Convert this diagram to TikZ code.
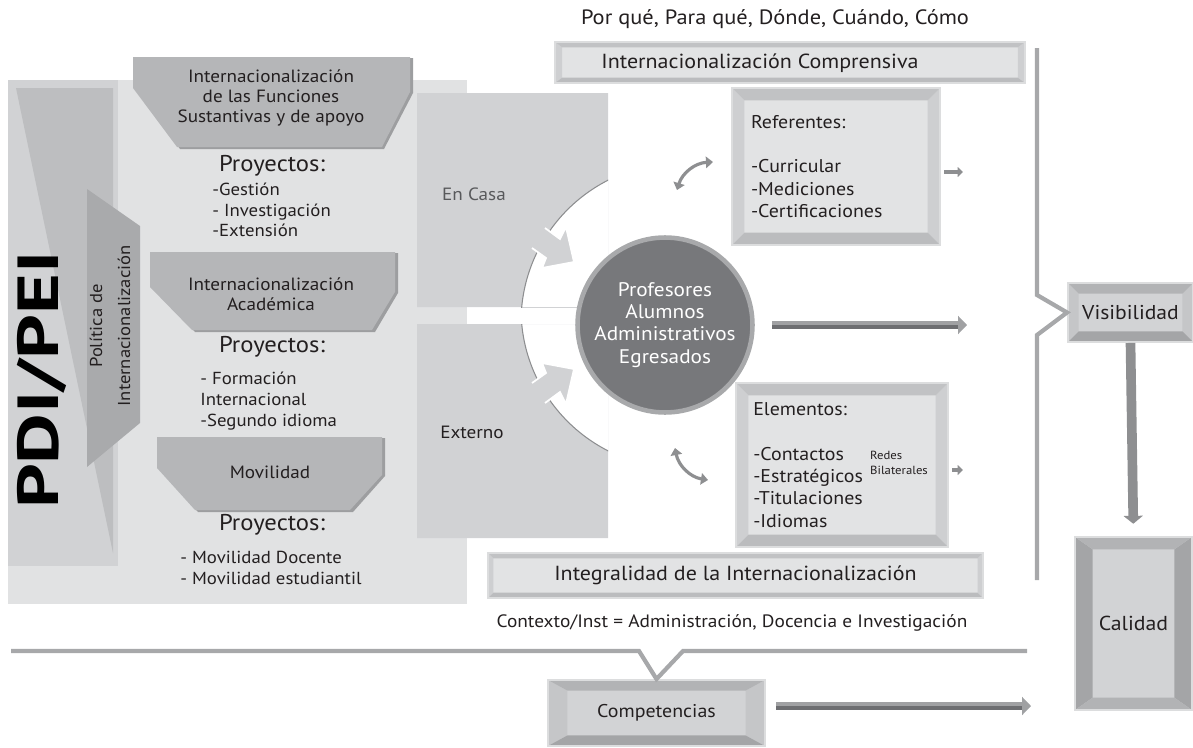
\documentclass[tikz,border=0pt]{standalone}
\usepackage{fontspec}
\setmainfont[FakeStretch=1.08]{PT Sans}
\newfontfamily\titlefont[FakeStretch=1.35]{PT Sans}
\usepackage{tikz}
\usetikzlibrary{calc, positioning, arrows.meta}

\definecolor{panelLight}{HTML}{E1E2E3}
\definecolor{panelMid}{HTML}{D1D2D4}
\definecolor{wedgeGray}{HTML}{BDBEC0}
\definecolor{shapeGray}{HTML}{B5B6B8}
\definecolor{shadeGray}{HTML}{9D9EA0}
\definecolor{policyGray}{HTML}{A9AAAC}
\definecolor{hubFill}{HTML}{77787B}
\definecolor{hubRing}{HTML}{A8A9AB}
\definecolor{lineGray}{HTML}{A7A8AA}
\definecolor{arrowLight}{HTML}{A0A1A3}
\definecolor{arrowMid}{HTML}{8E8F91}
\definecolor{arrowDark}{HTML}{6D6E71}
\definecolor{arcGray}{HTML}{8D8E90}
\definecolor{textDark}{HTML}{231F20}
\definecolor{textGray}{HTML}{58595B}
\definecolor{rimGray}{HTML}{DCDDDE}
\definecolor{faceL}{HTML}{E2E3E4}
\definecolor{topL}{HTML}{C1C2C4}
\definecolor{sideL}{HTML}{CECFD1}
\definecolor{botL}{HTML}{BBBCBE}
\definecolor{faceD}{HTML}{D2D3D5}
\definecolor{topD}{HTML}{B2B3B5}
\definecolor{sideD}{HTML}{C5C6C8}
\definecolor{botD}{HTML}{A4A5A7}

\tikzset{
    bevel/.style n args={6}{rectangle, draw=rimGray, line width=1.1pt, fill=#6, text=textDark, align=center, inner sep=0pt,
        path picture={
            \fill[#4] (path picture bounding box.north west) -- ([shift={(#1,-#2)}]path picture bounding box.north west)
                -- ([shift={(#1,#2)}]path picture bounding box.south west) -- (path picture bounding box.south west) -- cycle;
            \fill[#4] (path picture bounding box.north east) -- ([shift={(-#1,-#2)}]path picture bounding box.north east)
                -- ([shift={(-#1,#2)}]path picture bounding box.south east) -- (path picture bounding box.south east) -- cycle;
            \fill[#3] (path picture bounding box.north west) -- (path picture bounding box.north east)
                -- ([shift={(-#1,-#2)}]path picture bounding box.north east) -- ([shift={(#1,-#2)}]path picture bounding box.north west) -- cycle;
            \fill[#5] (path picture bounding box.south west) -- (path picture bounding box.south east)
                -- ([shift={(-#1,#2)}]path picture bounding box.south east) -- ([shift={(#1,#2)}]path picture bounding box.south west) -- cycle;
        }},
    lbl/.style={font=\fontsize{10.1}{11.4}\selectfont, text=textDark, align=center, inner sep=0pt},
    proj/.style={font=\fontsize{13}{14}\selectfont, text=textDark, inner sep=0pt},
    items/.style={font=\fontsize{9.9}{11.8}\selectfont, text=textDark, align=left, anchor=west, inner sep=0pt},
    bigtitle/.style={font=\fontsize{33}{36}\selectfont\titlefont\bfseries, text=black, inner sep=0pt},
    boxtxt/.style={font=\fontsize{10.5}{12.7}\selectfont, align=left},
    bartxt/.style={font=\fontsize{11.6}{13}\selectfont},
    hub/.style={circle, fill=hubFill, draw=hubRing, line width=2.6pt, minimum size=3.5cm, inner sep=0pt,
        text=white, align=center, font=\fontsize{11.2}{12.6}\selectfont},
    place/.style={font=\fontsize{10.1}{12}\selectfont, inner sep=0pt},
    ctxline/.style={draw=lineGray, line width=2.4pt},
    arcline/.style={draw=arcGray, line width=0.6pt},
    fatarrow/.style={draw=arrowLight, line width=5pt, -{Triangle[length=5pt, width=10pt]}},
    darkstripe/.style={draw=arrowDark, line width=2.4pt},
    smallarrow/.style={draw=arrowMid, line width=2.3pt, -{Triangle[length=3pt, width=5.5pt]}},
    swaparrow/.style={draw=arrowMid, line width=1.8pt, {Triangle[length=4pt, width=6.5pt]}-{Triangle[length=4pt, width=6.5pt]}}
}

\begin{document}
\begin{tikzpicture}[x=0.02cm, y=-0.02cm]
    \useasboundingbox (0,0) rectangle (1193,747);

    % Left panel
    \fill[panelLight] (8,80) rectangle (467,604);
    \fill[panelMid] (8,80) rectangle (118,566);
    \fill[wedgeGray] (16,88) -- (113,88) -- (113,553) -- cycle;
    \fill[policyGray] (87,189) -- (140,226) -- (140,423) -- (87,467) -- cycle;
    \node[bigtitle, rotate=90] (pdi) at (42,380) {PDI/PEI};
    \node[lbl, rotate=90, font=\fontsize{9.8}{16}\selectfont] (policy) at (110,326) {Política de\\Internacionalización};

    % Funciones sustantivas
    \fill[shadeGray] (136,58) -- (413,58) -- (413,93) -- (384,149) -- (180,149) -- (136,89) -- cycle;
    \fill[shapeGray] (133,57) -- (410,57) -- (410,92) -- (382,147) -- (177,147) -- (133,88) -- cycle;
    \node[lbl] (funcs) at (271,98) {Internacionalización\\de las Funciones\\Sustantivas y de apoyo};
    \node[proj] (projA) at (272,166) {Proyectos:};
    \node[items] (listA) at (212,210) {-Gestión\\- Investigación\\-Extensión};

    % Academica
    \fill[shadeGray] (153,253) -- (398,253) -- (398,293) -- (375,332) -- (195,332) -- (153,288) -- cycle;
    \fill[shapeGray] (150,252) -- (395,252) -- (395,292) -- (372,330) -- (192,330) -- (150,287) -- cycle;
    \node[lbl] (acad) at (271,294) {Internacionalización\\Académica};
    \node[proj] (projB) at (272,347) {Proyectos:};
    \node[items] (listB) at (200,401) {- Formación\\Internacional\\-Segundo idioma};

    % Movilidad
    \fill[shadeGray] (160,438) -- (385,438) -- (385,476) -- (353,512) -- (198,512) -- (160,469) -- cycle;
    \fill[shapeGray] (157,437) -- (382,437) -- (382,475) -- (350,510) -- (195,510) -- (157,468) -- cycle;
    \node[lbl] (movil) at (270,472) {Movilidad};
    \node[proj] (projC) at (272,525) {Proyectos:};
    \node[items] (listC) at (180,568) {- Movilidad Docente\\- Movilidad estudiantil};

    % En Casa / Externo
    \begin{scope}
        \clip (417,93) rectangle (608,307);
        \fill[panelMid, even odd rule] (417,93) rectangle (608,307) (680,322) circle (159);
        \draw[arcline] (680,322) circle (159);
    \end{scope}
    \begin{scope}
        \clip (417,324) rectangle (608,538);
        \fill[panelMid, even odd rule] (417,324) rectangle (608,538) (680,309) circle (159);
        \draw[arcline] (680,309) circle (159);
    \end{scope}
    \fill[panelMid] (545,228) -- (560,239) -- (566,227) -- (574,262) -- (542,268) -- (546,258) -- (532,248) -- cycle;
    \draw[white, line width=1pt] (545,228) -- (560,239) -- (566,227) -- (574,262) -- (542,268) -- (546,258) -- (532,248);
    \fill[panelMid] (545,403) -- (560,392) -- (566,404) -- (574,369) -- (542,363) -- (546,373) -- (532,383) -- cycle;
    \draw[white, line width=1pt] (545,403) -- (560,392) -- (566,404) -- (574,369) -- (542,363) -- (546,373) -- (532,383);
    \node[place, text=textGray] (casa) at (474,194) {En Casa};
    \node[place, text=textDark] (ext) at (472,432) {Externo};

    % Actores
    \node[hub] (hub) at (665,325) {Profesores\\Alumnos\\Administrativos\\Egresados};

    % Cajas
    \node[font=\fontsize{11.8}{13}\selectfont, text=textDark] (why) at (775,19) {Por qué, Para qué, Dónde, Cuándo, Cómo};
    \node[bevel={4pt}{3pt}{topL}{sideL}{botL}{faceL}, minimum width=9.4cm, minimum height=0.82cm] (comp) at (790,62.5) {};
    \node[bartxt, text=textDark] (compTxt) at (760,63) {Internacionalización Comprensiva};
    \node[bevel={7pt}{7pt}{topL}{sideL}{botL}{faceL}, minimum width=4.16cm, minimum height=3.14cm, boxtxt, text width=3.4cm] (ref) at (836,166.5)
        {Referentes:\\[12.7pt]-Curricular\\-Mediciones\\-Certificaciones};
    \node[bevel={7pt}{7pt}{topL}{sideL}{botL}{faceL}, minimum width=4.24cm, minimum height=3.28cm, boxtxt, text width=3.55cm] (elem) at (842,465)
        {Elementos:\\[12.7pt]-Contactos\\-Estratégicos\\-Titulaciones\\-Idiomas};
    \node[font=\fontsize{6.7}{8.3}\selectfont, align=left, text=textDark, inner sep=0pt] (redes) at (899,463) {Redes\\Bilaterales};
    \node[bevel={3pt}{3pt}{topL}{sideL}{botL}{faceL}, minimum width=9.9cm, minimum height=0.9cm, bartxt] (integ) at (735.5,575.5)
        {Integralidad de la Internacionalización};
    \node[font=\fontsize{10.2}{12}\selectfont, text=textDark] (ctx) at (732,623) {Contexto/Inst = Administración, Docencia e Investigación};
    \node[bevel={6pt}{6pt}{topD}{sideD}{botD}{faceD}, minimum width=2.5cm, minimum height=1.18cm, font=\fontsize{11.4}{14}\selectfont] (vis) at (1130.5,312.5) {Visibilidad};
    \node[bevel={10pt}{7pt}{topD}{botD}{topD}{faceD}, minimum width=2.34cm, minimum height=3.46cm, font=\fontsize{11.5}{14}\selectfont] (cal) at (1133.5,623.5) {Calidad};
    \node[bevel={11pt}{6pt}{topD}{sideD}{botD}{faceD}, minimum width=4.34cm, minimum height=1.32cm, font=\fontsize{10.5}{12}\selectfont] (compet) at (656.5,713) {Competencias};

    % Conectores
    \coordinate (visIn) at (967,325);
    \coordinate (calIn) at (1031,706);
    \coordinate (refOut) at (963,172);
    \coordinate (elemOut) at (963,470);
    \coordinate (brTop) at (1037,48);
    \coordinate (brBot) at (1037,580);
    \coordinate (ctxL) at (11,651);
    \coordinate (ctxR) at (1027,651);
    \coordinate (refA) at (677,190);
    \coordinate (refB) at (713,162);
    \coordinate (elemA) at (675,448);
    \coordinate (elemB) at (708,480);

    \draw[fatarrow, shorten <=10pt] (hub.east) -- (visIn);
    \draw[darkstripe, shorten <=10pt, shorten >=5pt] ([yshift=-1.3pt]hub.east) -- ([yshift=-1.3pt]visIn);
    \draw[fatarrow, shorten <=6pt] (compet.east |- calIn) -- (calIn);
    \draw[darkstripe, shorten <=6pt, shorten >=5pt] ([yshift=-1.3pt]compet.east |- calIn) -- ([yshift=-1.3pt]calIn);
    \draw[fatarrow, draw=arrowMid, line width=5.5pt, -{Triangle[length=4.5pt, width=10.8pt]}, shorten >=7pt] (vis.south) -- (cal.north);
    \draw[smallarrow, shorten <=2pt] (ref.east |- refOut) -- (refOut);
    \draw[smallarrow, shorten <=2pt] (elem.east |- elemOut) -- (elemOut);
    \draw[swaparrow] (refA) to[bend left=35] (refB);
    \draw[swaparrow] (elemA) to[bend right=35] (elemB);
    \draw[ctxline] (brTop) -- (1037,295) -- (vis.west) -- (1037,335) -- (brBot);
    \draw[ctxline] (ctxL) -- (639,651) -- (compet.north) -- (683,651) -- (ctxR);
\end{tikzpicture}
\end{document}
